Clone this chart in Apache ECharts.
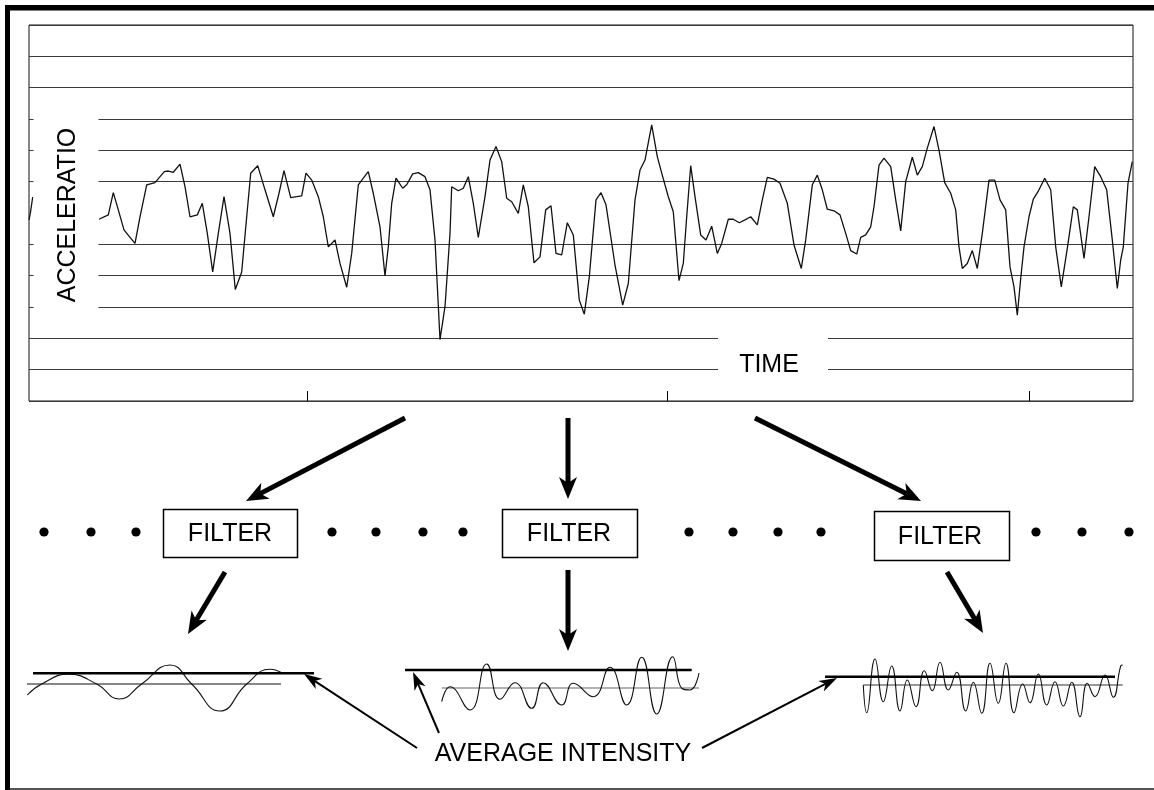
<!DOCTYPE html>
<html><head><meta charset="utf-8">
<script src="https://cdn.jsdelivr.net/npm/echarts@6/dist/echarts.min.js"></script>
<style>html,body{margin:0;padding:0;background:#fff}#c{width:1154px;height:790px}</style>
</head><body><div id="c"></div>
<script>
// ---------- DATA ----------
const timeTicks = [278, 638, 1000];
const accelLevels = [-6,-5,-4,-3,-2,-1,0,1,2,3,4,5,6];
const leadTime = [0, 1.5, 3.7];
const leadValues = [-0.22, 0.03, 0.51];
const accelTime = [70,79.3,84.3,89.3,95,101,106,111,117.7,126,135.3,139.3,144.3,151,156,161,168.3,173.3,178.3,183.7,189.3,195,201,206.3,212.7,217.7,221.7,228.7,236,244.3,250,255,261.7,267.7,272.7,277,282.7,289.3,294.3,299.3,306,311,317.7,322.7,329.3,334.3,339.3,344.3,
351,356,359.3,362.7,367,369.3,373.7,377.7,383.7,389.3,396,401,406,411,416,421,422.7,429.3,434.3,439.3,444.3,449.3,456,461,467,472.7,477.7,482.7,489.3,494.3,499.3,505,511,516.7,522,527,532.7,538.3,544.3,550.3,555.3,560.3,567,572,577,586,593.7,599.3,606,611,616,622.7,628.3,633.7,639.3,644.3,650,654.3,657.7,661.7,666,671.7,677,682.7,688.3,692.7,699.3,704.3,710.3,716,721.7,
728.3,733.3,738.3,745,751,758.3,765,772.3,776.7,783.3,788.3,793.3,798.3,805,811,816.7,821.7,827.7,831.7,836.7,841.7,845,850,855,861.7,866.7,871.7,876.7,883.3,888.3,893.3,898.3,905,910,915.7,921.7,926.7,930,933.3,938.3,943.3,948.3,953.3,960,965.7,971,976.7,981,985,988.3,991.7,995,1000,1004.3,1009,1015.7,1021.7,1026.7,1032.3,1038.3,1044.3,1048.3,1055,1060,1065.7,1071.7,1077.7,1083.3,1088.3,1091.7,1094.3,1099,1103.3];
const accelValues = [-0.20,-0.06,0.65,0.10,-0.54,-0.78,-0.97,-0.12,0.90,0.97,1.32,1.34,1.30,1.56,0.84,-0.12,-0.06,0.31,-0.65,-1.88,-0.65,0.52,-0.65,-2.44,-1.88,-0.12,1.27,1.51,0.74,-0.12,0.63,1.35,0.49,0.52,0.55,1.27,1.05,0.52,-0.12,-1.08,-0.86,-1.61,-2.37,-1.29,0.90,1.11,1.32,0.63,
-0.44,-2.01,-1.08,0.31,1.11,1.00,0.79,0.90,1.25,1.29,1.16,0.74,-0.86,-4.04,-2.99,-0.65,0.84,0.71,0.79,1.16,0.31,-0.78,0.52,1.69,2.12,1.64,0.47,0.36,-0.01,0.90,0.20,-1.59,-1.40,0.10,0.23,-1.29,-1.34,-0.31,-0.70,-2.78,-3.23,-2.04,0.42,0.65,0.26,-1.66,-2.94,-2.25,0.42,1.37,1.69,2.81,1.80,1.16,0.52,0.04,-2.16,-1.61,-0.12,1.51,0.52,-0.70,-0.86,-0.42,-1.29,-0.97,-0.20,-0.20,-0.31,-0.22,-0.12,
-0.38,0.42,1.14,1.08,0.95,0.31,-1.02,-1.77,-0.86,0.90,1.21,0.74,0.12,0.07,-0.06,-0.65,-1.20,-1.31,-0.78,-0.70,-0.44,0.20,1.53,1.75,1.48,0.42,-0.57,1.00,1.78,1.21,1.48,2.07,2.76,2.01,0.97,0.63,0.10,-1.08,-1.77,-1.61,-1.20,-1.77,-0.65,1.05,1.05,0.42,0.10,-1.72,-2.36,-3.26,-2.09,-1.08,-0.12,0.44,0.68,1.11,0.74,-1.08,-2.36,-1.13,0.20,0.10,-1.45,-0.12,1.48,1.16,0.74,-0.86,-2.41,-1.50,-1.08,0.95,1.64];

// filtered band 1 (low frequency)
const band1Time = [7.3,21.7,48.3,76.7,99.3,121.7,150,171.7,200,226.7,250,261.7];
const band1Values = [-1.1,0,0.97,0,-1.5,0,1.9,0,-2.7,0,1.47,1.13];
const band1MeanSpan = [7, 261];
const band1IntensitySpan = [13, 294];
const band1Intensity = 1.07;

// filtered band 2 (mid frequency)
const band2Time = [41.7,50,70,86.7,100,115,131.7,143.3,161.7,173.3,193.3,210,226.7,241.7,256.7,272.7,282,290,299];
const band2Values = [-1.37,0.13,-2.2,2.4,-1.13,0.53,-2.03,0.53,-1.7,0.47,-0.87,2.07,-1.7,3.07,-2.6,3.13,-0.05,-0.2,1.5];
const band2MeanSpan = [41.7, 299];
const band2IntensitySpan = [5, 291.7];
const band2Intensity = 1.8;

// filtered band 3 (high frequency)
const band3Time = [43.3,46.7,55,63.3,71.7,80,87.3,96,104.3,112.3,120,128.3,136.7,145.7,153.3,161.7,170,178.3,186,194,202.7,210,218.3,226.7,235,243.3,251.7,260,267.3,275,285,293.3,300.7,302.7];
const band3Values = [0,-2.77,2.6,-1.67,1.9,-2.6,0.5,-2.17,1.43,-0.57,2.27,-0.5,1.27,-2.6,0.27,-2.83,2.17,-1.83,2.17,-2.77,0.1,-1.77,1.1,-2,0.33,-2.1,0.27,-3.17,0.17,-1.17,1,-1.23,1.9,2];
const band3MeanSpan = [43.3, 302.7];
const band3IntensitySpan = [5, 295];
const band3Intensity = 0.83;

// ---------- BUILD ----------
const zip = (a, b) => a.map((x, i) => [x, b[i]]);
const FONT = 'Liberation Sans, Arial, sans-serif';
const chart = echarts.init(document.getElementById('c'), null, {renderer: 'canvas'});

const splitColors = accelLevels.map(v => v === 0 ? 'rgba(0,0,0,0)' : '#3a3a3a');

function hiddenAxes(n, xmax) {
  return {
    x: {type: 'value', gridIndex: n, min: 0, max: xmax, show: false},
    y: {type: 'value', gridIndex: n, min: -4, max: 4, show: false}
  };
}
const ax1 = hiddenAxes(1, 300), ax2 = hiddenAxes(2, 310), ax3 = hiddenAxes(3, 310);

function bandSeries(idx, t, v, meanSpan, intSpan, intensity, meanColor) {
  return [
    {type: 'line', xAxisIndex: idx, yAxisIndex: idx, data: zip(meanSpan, [0, 0]), symbol: 'none',
      lineStyle: {color: meanColor, width: 1.2}, silent: true},
    {type: 'line', xAxisIndex: idx, yAxisIndex: idx, data: zip(t, v), symbol: 'none', smooth: 0.5,
      lineStyle: {color: '#111', width: 1.1}, silent: true},
    {type: 'line', xAxisIndex: idx, yAxisIndex: idx, data: zip(intSpan, [intensity, intensity]), symbol: 'none',
      lineStyle: {color: '#000', width: 2.6}, silent: true}
  ];
}

function arrow(x1, y1, x2, y2, w, hl, hw, notch) {
  const dx = x2 - x1, dy = y2 - y1, L = Math.hypot(dx, dy);
  const ux = dx / L, uy = dy / L, nx = -uy, ny = ux;
  const bx = x2 - ux * hl, by = y2 - uy * hl;
  const mx = x2 - ux * (hl - notch), my = y2 - uy * (hl - notch);
  return [
    {type: 'line', z: 100, shape: {x1: x1, y1: y1, x2: mx, y2: my}, style: {stroke: '#000', lineWidth: w}},
    {type: 'polygon', z: 100, shape: {points: [[x2, y2], [bx + nx * hw, by + ny * hw], [mx, my], [bx - nx * hw, by - ny * hw]]},
      style: {fill: '#000'}}
  ];
}

function box(x, y, w, h, tx, ty) {
  return [
    {type: 'rect', z: 100, shape: {x: x + 0.5, y: y + 0.5, width: w, height: h}, style: {fill: '#fff', stroke: '#000', lineWidth: 1.5}},
    {type: 'text', z: 101, x: tx, y: ty, style: {text: 'FILTER', font: '25px ' + FONT, fill: '#000', align: 'center', verticalAlign: 'middle'}}
  ];
}

const dotsX = [44, 91, 136, 332, 376, 423, 463, 689, 733, 778, 821, 1036, 1082, 1129];

const graphics = [
  // frame
  {type: 'rect', z: 100, shape: {x: 5, y: 5, width: 5, height: 785}, style: {fill: '#000'}},
  {type: 'rect', z: 100, shape: {x: 5, y: 5, width: 1149, height: 5.5}, style: {fill: '#000'}},
  {type: 'line', z: 100, shape: {x1: 10, y1: 789, x2: 1154, y2: 789}, style: {stroke: '#555', lineWidth: 2}},
  // label clearings
  {type: 'rect', z: 90, shape: {x: 33.5, y: 112, width: 65, height: 202}, style: {fill: '#fff'}},
  {type: 'rect', z: 90, shape: {x: 718, y: 330, width: 110, height: 50}, style: {fill: '#fff'}},
  {type: 'text', z: 101, x: 68, y: 215, rotation: Math.PI / 2,
    style: {text: 'ACCELERATIO', font: '25px ' + FONT, fill: '#000', align: 'center', verticalAlign: 'middle'}},
  {type: 'text', z: 101, x: 769, y: 365,
    style: {text: 'TIME', font: '25px ' + FONT, fill: '#000', align: 'center', verticalAlign: 'middle'}},
  {type: 'text', z: 101, x: 563, y: 754,
    style: {text: 'AVERAGE INTENSITY', font: '25px ' + FONT, fill: '#000', align: 'center', verticalAlign: 'middle'}}
];
dotsX.forEach(x => graphics.push({type: 'circle', z: 100, shape: {cx: x, cy: 532, r: 4.6}, style: {fill: '#000'}}));
graphics.push(...box(163, 509, 134, 48, 230, 534));
graphics.push(...box(502, 509, 135, 48, 569, 534));
graphics.push(...box(874, 511, 135, 49, 940, 537));
graphics.push(...arrow(405, 418, 246, 501, 5, 22, 9, 6));
graphics.push(...arrow(568, 418, 568, 499, 5, 22, 9, 6));
graphics.push(...arrow(755, 418, 921, 501, 5, 22, 9, 6));
graphics.push(...arrow(225, 572, 188, 634, 5, 22, 9, 6));
graphics.push(...arrow(568, 570, 568, 651, 5, 22, 9, 6));
graphics.push(...arrow(947, 572, 983, 633, 5, 22, 9, 6));
graphics.push(...arrow(417, 748, 304, 674, 2, 18, 6, 5));
graphics.push(...arrow(439, 733, 413, 672, 2, 18, 6, 5));
graphics.push(...arrow(702, 748, 837, 678, 2, 18, 6, 5));

const option = {
  animation: false,
  backgroundColor: '#fff',
  grid: [
    {left: 29, top: 25, width: 1104, height: 376, show: true, borderColor: '#111', borderWidth: 1, backgroundColor: 'transparent'},
    {left: 20, top: 644, width: 300, height: 80},
    {left: 400, top: 648, width: 310, height: 80},
    {left: 820, top: 645, width: 310, height: 80}
  ],
  xAxis: [
    {type: 'value', gridIndex: 0, min: 0, max: 1104, position: 'bottom',
      axisLine: {show: false, onZero: false},
      axisTick: {show: true, inside: true, length: 10, customValues: timeTicks, lineStyle: {color: '#000', width: 1}},
      axisLabel: {show: false}, splitLine: {show: false}},
    ax1.x, ax2.x, ax3.x
  ],
  yAxis: [
    {type: 'value', gridIndex: 0, min: -6, max: 6, interval: 1,
      axisLine: {show: false, onZero: false}, axisTick: {show: false}, axisLabel: {show: false},
      splitLine: {show: true, lineStyle: {color: splitColors, width: 1}}},
    ax1.y, ax2.y, ax3.y
  ],
  series: [
    {type: 'line', xAxisIndex: 0, yAxisIndex: 0, data: zip(leadTime, leadValues), symbol: 'none',
      lineStyle: {color: '#111', width: 1.3}, silent: true},
    {type: 'line', xAxisIndex: 0, yAxisIndex: 0, data: zip(accelTime, accelValues), symbol: 'none',
      lineStyle: {color: '#111', width: 1.3}, silent: true},
    ...bandSeries(1, band1Time, band1Values, band1MeanSpan, band1IntensitySpan, band1Intensity, '#111'),
    ...bandSeries(2, band2Time, band2Values, band2MeanSpan, band2IntensitySpan, band2Intensity, '#666'),
    ...bandSeries(3, band3Time, band3Values, band3MeanSpan, band3IntensitySpan, band3Intensity, '#333')
  ],
  graphic: {elements: graphics}
};
chart.setOption(option);
</script></body></html>
